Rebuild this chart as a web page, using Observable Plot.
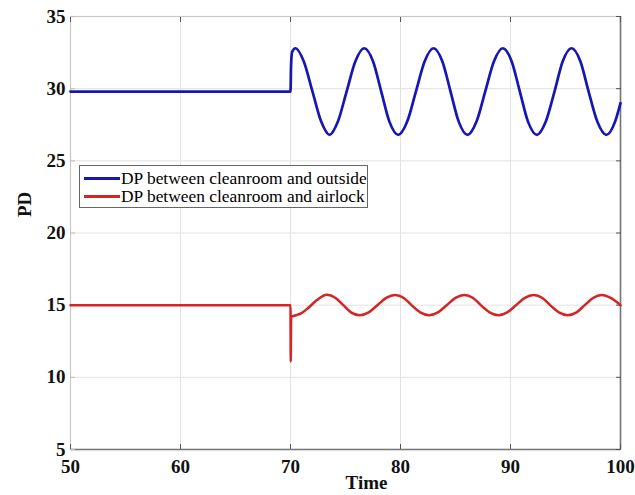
<!DOCTYPE html>
<html>
<head>
<meta charset="utf-8">
<script src="https://cdn.jsdelivr.net/npm/d3@7"></script>
<script src="https://cdn.jsdelivr.net/npm/@observablehq/plot@0.6"></script>
<style>
  body { margin: 0; background: #fff; }
  #wrap { position: relative; width: 635px; height: 495px; }
  #legend { position: absolute; left: 79px; top: 165px; width: 287px; height: 41px;
    background: #fff; border: 1px solid #666; font-family: "Liberation Serif", serif; font-size: 17.4px; color: #000; }
  .row { position: absolute; left: 4px; height: 19px; display: flex; align-items: center; white-space: nowrap; }
  .sw { width: 36px; height: 0; border-top: 3px solid; margin-right: 1px; flex: none; }
</style>
</head>
<body>
<div id="wrap">
  <div id="chart"></div>
  <div id="legend">
    <div class="row" style="top:3px"><div class="sw" style="border-color:#1616b4"></div><span>DP between cleanroom and outside</span></div>
    <div class="row" style="top:21px"><div class="sw" style="border-color:#d42424"></div><span>DP between cleanroom and airlock</span></div>
  </div>
</div>
<script>
const seriesNames = ["DP between cleanroom and outside", "DP between cleanroom and airlock"];
const xTicks = [50, 60, 70, 80, 90, 100];
const yTicks = [5, 10, 15, 20, 25, 30, 35];

const blueTime = [50, 70.0, 70.05, 70.15, 70.45, 71.2, 72.0, 72.8, 73.55, 74.3, 75.1, 75.9, 76.7, 77.5, 78.25, 79.0, 79.8, 80.6, 81.4, 82.2, 83.0, 83.8, 84.55, 85.3, 86.1, 86.9, 87.7, 88.5, 89.3, 90.1, 90.85, 91.6, 92.4, 93.2, 94.0, 94.75, 95.55, 96.35, 97.1, 97.9, 98.7, 99.5, 100];
const blueValue = [29.8, 29.8, 31.6, 32.55, 32.8, 31.9, 29.8, 27.7, 26.8, 27.7, 29.8, 31.9, 32.8, 31.9, 29.8, 27.7, 26.8, 27.7, 29.8, 31.9, 32.8, 31.9, 29.8, 27.7, 26.8, 27.7, 29.8, 31.9, 32.8, 31.9, 29.8, 27.7, 26.8, 27.7, 29.8, 31.9, 32.8, 31.9, 29.8, 27.7, 26.8, 27.7, 29.0];

const redTime = [50, 70.0, 70.02, 70.06, 70.5, 71.0, 71.6, 72.4, 73.3, 74.1, 74.8, 75.5, 76.3, 77.1, 77.9, 78.7, 79.5, 80.3, 81.0, 81.8, 82.6, 83.4, 84.2, 85.0, 85.8, 86.6, 87.3, 88.1, 88.9, 89.7, 90.5, 91.3, 92.1, 92.9, 93.6, 94.4, 95.2, 96.0, 96.75, 97.5, 98.3, 99.1, 100];
const redValue = [15.0, 15.0, 11.1, 14.2, 14.3, 14.45, 14.8, 15.35, 15.72, 15.5, 15.0, 14.5, 14.3, 14.5, 15.0, 15.5, 15.7, 15.5, 15.0, 14.5, 14.3, 14.5, 15.0, 15.5, 15.7, 15.5, 15.0, 14.5, 14.3, 14.5, 15.0, 15.5, 15.7, 15.5, 15.0, 14.5, 14.3, 14.5, 15.0, 15.5, 15.7, 15.5, 15.0];

const blue = blueTime.map((t, i) => ({t, v: blueValue[i], s: seriesNames[0]}));
const red = redTime.map((t, i) => ({t, v: redValue[i], s: seriesNames[1]}));

const font = "Liberation Serif, Times New Roman, serif";

const chart = Plot.plot({
  width: 635,
  height: 495,
  marginLeft: 70,
  marginRight: 15,
  marginTop: 16,
  marginBottom: 46,
  style: {fontFamily: font, background: "#fff"},
  x: {domain: [50, 100]},
  y: {domain: [5, 35]},
  marks: [
    Plot.gridX(xTicks, {stroke: "#e2e2e2", strokeOpacity: 1}),
    Plot.gridY(yTicks, {stroke: "#e2e2e2", strokeOpacity: 1}),
    Plot.frame({stroke: "#c8c8c8", strokeWidth: 1.2}),
    Plot.ruleY([5], {stroke: "#777", strokeWidth: 1.6}),
    Plot.ruleX([100], {stroke: "#777", strokeWidth: 1.6}),
    Plot.axisX(xTicks, {anchor: "bottom", tickSize: 0, tickPadding: 10, fontSize: 19, fontWeight: "bold", fill: "#111", label: null}),
    Plot.axisY(yTicks, {anchor: "left", tickSize: 0, tickPadding: 5, fontSize: 19, fontWeight: "bold", fill: "#111", label: null}),
    Plot.axisX(xTicks, {anchor: "top", tickSize: -5, text: null, stroke: "#555", label: null}),
    Plot.axisX(xTicks, {anchor: "bottom", tickSize: -5, text: null, stroke: "#555", label: null}),
    Plot.axisY(yTicks, {anchor: "right", tickSize: -5, text: null, stroke: "#555", label: null}),
    Plot.axisY(yTicks, {anchor: "left", tickSize: -5, text: null, stroke: "#bbb", label: null}),
    Plot.line(blue, {x: "t", y: "v", stroke: "#1616b4", strokeWidth: 2.7, curve: "monotone-x"}),
    Plot.line(red, {x: "t", y: "v", stroke: "#d42424", strokeWidth: 2.5, curve: "monotone-x"}),
    Plot.text(["PD"], {frameAnchor: "left", text: d => d, rotate: -90, dx: -46, dy: -16, fontSize: 19, fontWeight: "bold", fill: "#111"}),
    Plot.text(["Time"], {frameAnchor: "bottom", text: d => d, dx: 21, dy: 39, fontSize: 19, fontWeight: "bold", fill: "#111"})
  ]
});
document.getElementById("chart").appendChild(chart);
</script>
</body>
</html>
